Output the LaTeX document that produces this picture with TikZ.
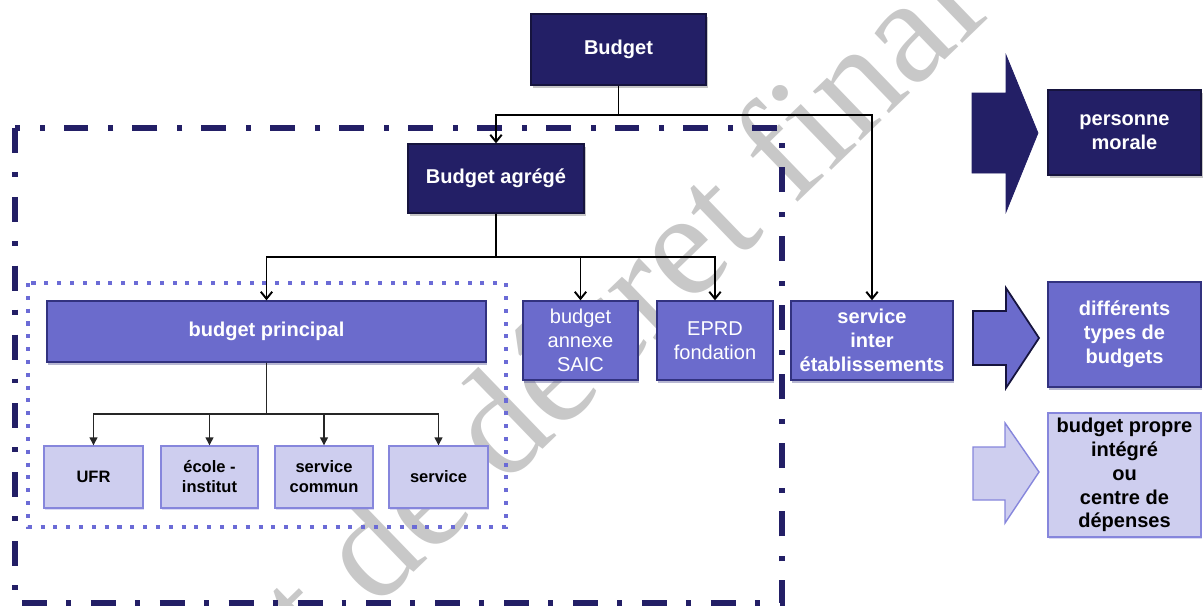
\documentclass[tikz,border=0pt]{standalone}
\usepackage{fontspec}
\setmainfont{Liberation Sans}
\newfontfamily\stampfont{Liberation Serif}
\usetikzlibrary{arrows.meta,shadows}
\definecolor{navy}{RGB}{35,31,102}
\definecolor{navyline}{RGB}{22,20,62}
\definecolor{midblue}{RGB}{107,107,204}
\definecolor{midline}{RGB}{50,50,128}
\definecolor{paleblue}{RGB}{206,206,239}
\definecolor{paleline}{RGB}{134,134,220}
\definecolor{dotblue}{RGB}{107,107,214}
\definecolor{stampgray}{RGB}{200,200,200}

\begin{document}
\begin{tikzpicture}[x=0.02cm, y=-0.02cm]
            \tikzstyle{every node}+=[inner sep=0pt, align=center]
            \tikzstyle{navybox}=[draw=navyline, fill=navy, line width=0.8pt, text=white, font=\bfseries\fontsize{11.4}{13.6}\selectfont, drop shadow={opacity=0.45, shadow xshift=1pt, shadow yshift=-1.6pt}]
            \tikzstyle{midbox}=[draw=midline, fill=midblue, line width=0.8pt, text=white, font=\bfseries\fontsize{11.4}{13.6}\selectfont, drop shadow={fill=midblue!70!black, opacity=0.4, shadow xshift=0.6pt, shadow yshift=-1.8pt}]
            \tikzstyle{palebox}=[draw=paleline, fill=paleblue, line width=0.8pt, text=black, font=\bfseries\fontsize{11.4}{13.6}\selectfont, drop shadow={fill=paleline, opacity=0.3, shadow xshift=0.6pt, shadow yshift=-1.4pt}]
            \tikzstyle{palesmall}=[palebox, font=\bfseries\fontsize{9.4}{11.4}\selectfont, minimum height=1.24cm]
            \tikzstyle{link}=[black, line width=1.1pt, -{Straight Barb[length=4pt, width=6.5pt]}]
            \tikzstyle{smalllink}=[black!85, line width=0.7pt, -{Triangle[length=4.5pt, width=4.5pt]}]
            \useasboundingbox (0,0) rectangle (1203,605);
            \begin{scope}
            \clip (0,0) rectangle (1203,605);
            \node [text=stampgray, font=\stampfont\fontsize{85}{85}\selectfont, anchor=base west, rotate=44] (stamp) at (92,884) {Projet de décret final};
            \end{scope}
            \draw [navy, line width=3.4pt, dash pattern=on 14.2pt off 10.8pt on 2.8pt off 11.4pt] (15,128) rectangle (782,603);
            \draw [dotblue, line width=2.3pt, dash pattern=on 2.3pt off 5pt] (28,283) rectangle (506,527);
            \node [navybox, minimum width=3.5cm, minimum height=1.42cm] (budget) at (618.5,49.5) {Budget};
            \node [navybox, minimum width=3.52cm, minimum height=1.38cm] (agrege) at (496,178.5) {Budget agrégé};
            \node [midbox, minimum width=8.78cm, minimum height=1.22cm] (principal) at (266.5,331.5) {budget principal};
            \node [midbox, font=\fontsize{11.4}{13.6}\selectfont, minimum width=2.3cm, minimum height=1.58cm] (annexe) at (580.5,340.5) {budget\\annexe\\SAIC};
            \node [midbox, font=\fontsize{11.4}{13.6}\selectfont, minimum width=2.32cm, minimum height=1.58cm] (eprd) at (715,340.5) {EPRD\\fondation};
            \node [midbox, minimum width=3.24cm, minimum height=1.58cm] (inter) at (872,340.5) {service\\inter\\établissements};
            \node [palesmall, minimum width=1.98cm] (ufr) at (93.5,477) {UFR};
            \node [palesmall, minimum width=1.94cm] (ecole) at (209.5,477) {école -\\institut};
            \node [palesmall, minimum width=1.96cm] (commun) at (324,477) {service\\commun};
            \node [palesmall, minimum width=1.98cm] (service) at (438.5,477) {service};
            \node [navybox, minimum width=3.06cm, minimum height=1.7cm] (morale) at (1124.5,132.5) {personne\\morale};
            \node [midbox, minimum width=3.06cm, minimum height=2.1cm] (types) at (1124.5,334.5) {différents\\types de\\budgets};
            \node [palebox, minimum width=3.06cm, minimum height=2.48cm] (propre) at (1124.5,475) {budget propre\\intégré\\ou\\centre de\\dépenses};
            \coordinate (fork1) at (618.5,115);
            \coordinate (fork2) at (496,257);
            \coordinate (fork3) at (266.5,414);
            \draw [link] (budget.south) -- (fork1) -| (agrege.north);
            \draw [link] (fork1) -| (inter.north);
            \draw [link] (agrege.south) -- (fork2) -| (principal.north);
            \draw [link] (fork2) -| (annexe.north);
            \draw [link] (fork2) -| (eprd.north);
            \foreach \n in {ufr,ecole,commun,service}
                \draw [smalllink] (principal.south) -- (fork3) -| (\n.north);
            \filldraw [fill=navy, draw=navy] (972,93) -- (1006,93) -- (1006,55) -- (1038,133) -- (1006,212) -- (1006,173) -- (972,173) -- cycle;
            \filldraw [fill=midblue, draw=navyline, line width=1pt] (973,311) -- (1006,311) -- (1006,288) -- (1039,338) -- (1006,388) -- (1006,365) -- (973,365) -- cycle;
            \filldraw [fill=paleblue, draw=paleline, line width=0.8pt] (973,447) -- (1005,447) -- (1005,423) -- (1039,472) -- (1005,523) -- (1005,500) -- (973,500) -- cycle;
\end{tikzpicture}
\end{document}
